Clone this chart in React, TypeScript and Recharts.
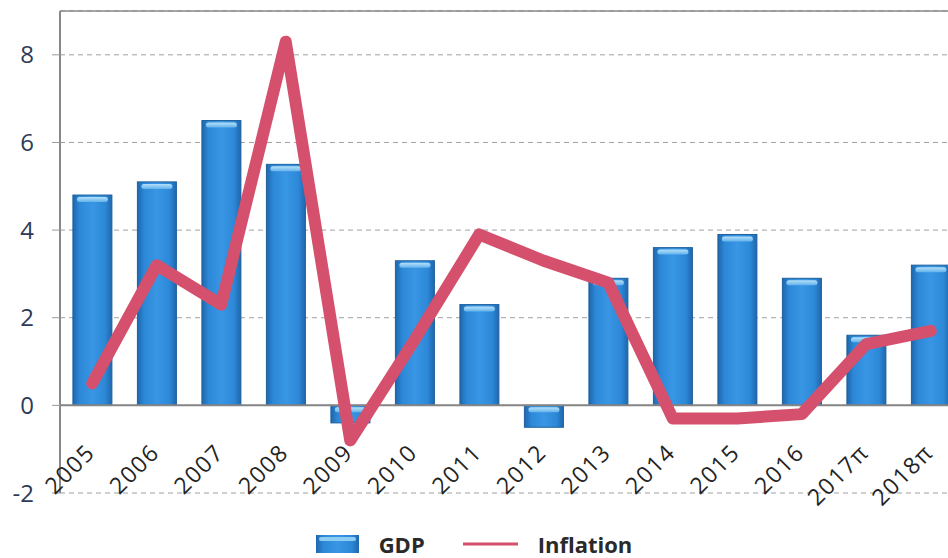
import {
  ComposedChart,
  Bar,
  Line,
  XAxis,
  YAxis,
  CartesianGrid,
  ReferenceLine,
  Legend
} from "recharts"

// annual growth figures, % (π = projection)
const years = ["2005", "2006", "2007", "2008", "2009", "2010", "2011", "2012", "2013", "2014", "2015", "2016", "2017π", "2018π"]
const gdp = [4.8, 5.1, 6.5, 5.5, -0.4, 3.3, 2.3, -0.5, 2.9, 3.6, 3.9, 2.9, 1.6, 3.2]
const inflation = [0.5, 3.2, 2.3, 8.3, -0.8, 1.5, 3.9, 3.3, 2.8, -0.3, -0.3, -0.2, 1.4, 1.7]
const yTicks = [-2, 0, 2, 4, 6, 8]

const data = years.map((year, i) => ({ year, gdp: gdp[i], inflation: inflation[i] }))

const FONT = "'Open Sans', 'DejaVu Sans', sans-serif"

// glossy column with a light strip across the top
const GdpBar = (props: any) => {
  const { x, y, width, height } = props
  const top = Math.min(y, y + height)
  const h = Math.abs(height)
  const shine = Math.max(0, Math.min(5, h - 3))
  return (
    <g>
      <rect x={x} y={top} width={width} height={h} fill="url(#gdpFill)" stroke="#1f609c" strokeWidth={1} />
      {shine > 0 && (
        <rect x={x + 4} y={top + 2} width={width - 8} height={shine} rx={2.5} fill="url(#gdpShine)" />
      )}
    </g>
  )
}

const YearTick = (props: any) => {
  const { x, y, payload } = props
  return (
    <text
      transform={`translate(${x + 4}, ${y - 39}) rotate(-45)`}
      textAnchor="end"
      fontFamily={FONT}
      fontSize={23}
      letterSpacing={1.5}
      fill="#232323"
    >
      {payload.value}
    </text>
  )
}

const LegendContent = (props: any) => {
  const { payload } = props
  return (
    <div style={{ display: "flex", justifyContent: "center", alignItems: "center", height: 26, fontFamily: FONT }}>
      {(payload || []).map((entry: any, i: number) => (
        <div key={i} style={{ display: "flex", alignItems: "center", marginLeft: i === 0 ? 0 : 38 }}>
          {entry.type === "line" ? (
            <svg width={55} height={6}>
              <line x1={0} y1={3} x2={55} y2={3} stroke="#d4506c" strokeWidth={3} />
            </svg>
          ) : (
            <svg width={43} height={18}>
              <rect x={0} y={0} width={43} height={18} fill="url(#gdpFill)" />
              <rect x={3} y={2} width={37} height={4} rx={2} fill="#8ccdf3" />
            </svg>
          )}
          <span style={{ marginLeft: 20, fontSize: 22, lineHeight: "26px", fontWeight: 700, color: "#2a2a2a" }}>
            {entry.value}
          </span>
        </div>
      ))}
    </div>
  )
}

export default function App() {
  return (
    <div style={{ position: "fixed", left: 0, top: 0, width: 948, height: 558, overflow: "hidden", background: "#fff" }}>
      <ComposedChart
        width={970}
        height={558}
        data={data}
        margin={{ top: 11, right: 7, left: 0, bottom: 35 }}
        barCategoryGap="20%"
      >
        <defs>
          <linearGradient id="gdpFill" x1="0" y1="0" x2="1" y2="0">
            <stop offset="0%" stopColor="#1e67ad" />
            <stop offset="18%" stopColor="#2d89d8" />
            <stop offset="50%" stopColor="#3896e4" />
            <stop offset="82%" stopColor="#2d89d8" />
            <stop offset="100%" stopColor="#1e67ad" />
          </linearGradient>
          <linearGradient id="gdpShine" x1="0" y1="0" x2="0" y2="1">
            <stop offset="0%" stopColor="#b4e0f8" />
            <stop offset="100%" stopColor="#62b2ec" />
          </linearGradient>
        </defs>
        <CartesianGrid vertical={false} stroke="#a0a0a0" strokeDasharray="5 4" />
        <XAxis
          dataKey="year"
          height={30}
          interval={0}
          axisLine={false}
          tickLine={false}
          tickSize={0}
          tickMargin={0}
          tick={<YearTick />}
        />
        <YAxis
          width={60}
          domain={[-2, 9]}
          ticks={yTicks}
          interval={0}
          axisLine={{ stroke: "#888", strokeWidth: 2 }}
          tickLine={{ stroke: "#999" }}
          tickSize={8}
          tickMargin={18}
          tick={{ fontFamily: FONT, fontSize: 24, fill: "#2d3b58" }}
        />
        <ReferenceLine y={9} stroke="#8a8a8a" strokeWidth={1.5} />
        <Bar dataKey="gdp" name="GDP" shape={<GdpBar />} isAnimationActive={false} />
        <ReferenceLine y={0} stroke="#858585" strokeWidth={2} />
        <Line
          type="linear"
          dataKey="inflation"
          name="Inflation"
          stroke="#d4506c"
          strokeWidth={12}
          strokeLinejoin="round"
          strokeLinecap="round"
          dot={false}
          activeDot={false}
          isAnimationActive={false}
        />
        <Legend
          layout="horizontal"
          verticalAlign="middle"
          align="center"
          wrapperStyle={{ top: 531, left: 0, width: 948 }}
          content={<LegendContent />}
        />
      </ComposedChart>
    </div>
  )
}
